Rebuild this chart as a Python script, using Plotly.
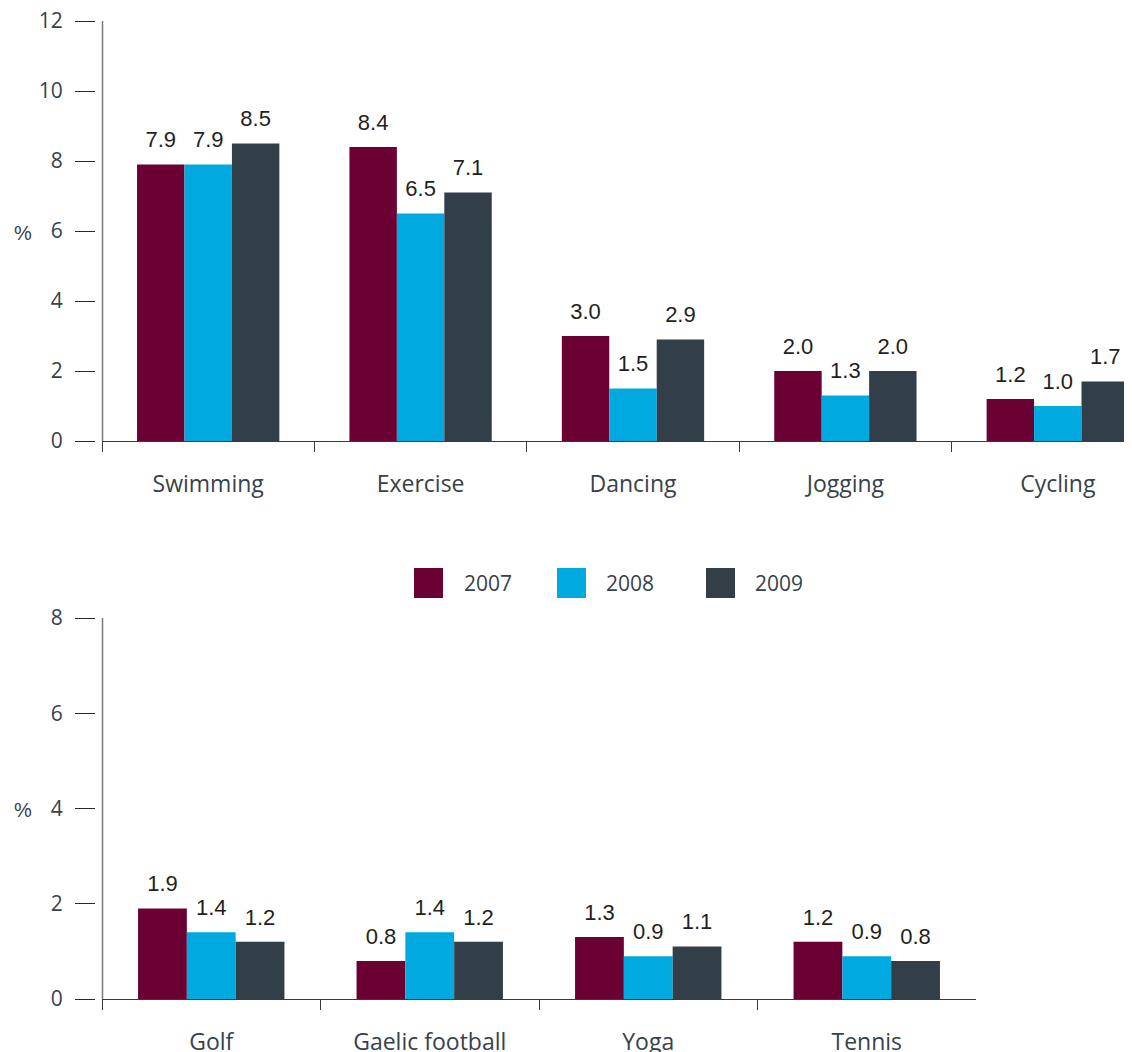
import plotly.graph_objects as go

# ---- data ----
years = ["2007", "2008", "2009"]
colors = ["#6b0033", "#00a9e0", "#333f48"]

top_categories = ["Swimming", "Exercise", "Dancing", "Jogging", "Cycling"]
top_2007 = [7.9, 8.4, 3.0, 2.0, 1.2]
top_2008 = [7.9, 6.5, 1.5, 1.3, 1.0]
top_2009 = [8.5, 7.1, 2.9, 2.0, 1.7]

bottom_categories = ["Golf", "Gaelic football", "Yoga", "Tennis"]
bottom_2007 = [1.9, 0.8, 1.3, 1.2]
bottom_2008 = [1.4, 1.4, 0.9, 0.9]
bottom_2009 = [1.2, 1.2, 1.1, 0.8]

top_ticks = [0, 2, 4, 6, 8, 10, 12]
bottom_ticks = [0, 2, 4, 6, 8]

W, H = 1132, 1052
OFF = 8  # page body margin
def px(x):
    return (x - OFF) / W
def py(y):
    return 1 - (y - OFF) / H

AX_FONT = dict(family="Open Sans", size=21, color="#37424a")
CAT_FONT = dict(family="Open Sans", size=23, color="#37424a")
LBL_FONT = dict(family="Liberation Sans, Arial", size=22, color="#231f20")

fig = go.Figure()

top_series = [top_2007, top_2008, top_2009]
bottom_series = [bottom_2007, bottom_2008, bottom_2009]

for cats, series, xa, ya in [(top_categories, top_series, "x", "y"),
                             (bottom_categories, bottom_series, "x2", "y2")]:
    for name, vals, col in zip(years, series, colors):
        fig.add_trace(go.Bar(x=cats, y=vals, name=name, marker_color=col,
                             marker_line_width=0, offsetgroup=name,
                             xaxis=xa, yaxis=ya, showlegend=False,
                             hoverinfo="skip"))
    for name, vals in zip(years, series):
        fig.add_trace(go.Scatter(x=cats, y=vals, mode="markers+text",
                                 text=[f"{v:.1f}" for v in vals],
                                 textposition="top center",
                                 textfont=LBL_FONT,
                                 marker=dict(size=17, opacity=0),
                                 offsetgroup=name, xaxis=xa, yaxis=ya,
                                 showlegend=False, hoverinfo="skip",
                                 cliponaxis=False))

top_dom_y = [py(441), py(21)]
bot_dom_y = [py(999), py(618)]

def xaxis_style(domain, rng, anchor):
    return dict(domain=domain, range=rng, anchor=anchor, type="category",
                automargin=False, ticklabeloverflow="allow",
                showline=True, linecolor="#3a3a3a", linewidth=1.3,
                ticks="outside", tickson="boundaries", ticklen=10,
                tickcolor="#3a3a3a", tickwidth=1.3,
                tickfont=CAT_FONT, ticklabelstandoff=22,
                showgrid=False, zeroline=False, fixedrange=True)

def yaxis_style(domain, rng, tickvals):
    return dict(domain=domain, range=rng, anchor="free", position=px(95),
                automargin=False, ticklabeloverflow="allow",
                showline=False, ticks="outside", ticklen=20,
                tickcolor="#2a2a2a", tickwidth=1.3,
                tickvals=tickvals, tickfont=AX_FONT, ticklabelstandoff=8,
                showgrid=False, zeroline=False, fixedrange=True)

fig.update_layout(
    width=W, height=H,
    margin=dict(l=0, r=0, t=0, b=0, pad=0),
    paper_bgcolor="white", plot_bgcolor="white",
    barmode="group", bargap=0.33, bargroupgap=0,
    scattermode="group", scattergap=0.33,
    showlegend=False,
    xaxis=xaxis_style([px(102), px(1130)], [-0.5, 4.34], "y"),
    yaxis=yaxis_style(top_dom_y, [0, 12], top_ticks),
    xaxis2=xaxis_style([px(102), px(976)], [-0.5, 3.5], "y2"),
    yaxis2=yaxis_style(bot_dom_y, [0, 8], bottom_ticks),
)

# y axis lines (separate from the tick marks)
for dom in (top_dom_y, bot_dom_y):
    fig.add_shape(type="line", xref="paper", yref="paper",
                  x0=px(102.5), x1=px(102.5), y0=dom[0], y1=dom[1],
                  line=dict(color="#7a7a7a", width=1.5))

# "%" axis titles
for yy in (233, 810):
    fig.add_annotation(text="%", x=px(12), y=py(yy), xref="paper", yref="paper",
                       xanchor="left", yanchor="middle", showarrow=False,
                       font=dict(family="Liberation Sans, Arial", size=20, color="#37424a"))

# manual legend
sq_left = [414, 557, 706]
txt_left = [462, 604, 753]
for name, col, sx, tx in zip(years, colors, sq_left, txt_left):
    fig.add_shape(type="rect", xref="paper", yref="paper",
                  x0=px(sx), x1=px(sx + 29), y0=py(598), y1=py(568),
                  fillcolor=col, line_width=0)
    fig.add_annotation(text=name, x=px(tx), y=py(583), xref="paper", yref="paper",
                       xanchor="left", yanchor="middle", showarrow=False,
                       font=dict(family="Open Sans", size=21, color="#37424a"))

fig.write_html("out.html")
